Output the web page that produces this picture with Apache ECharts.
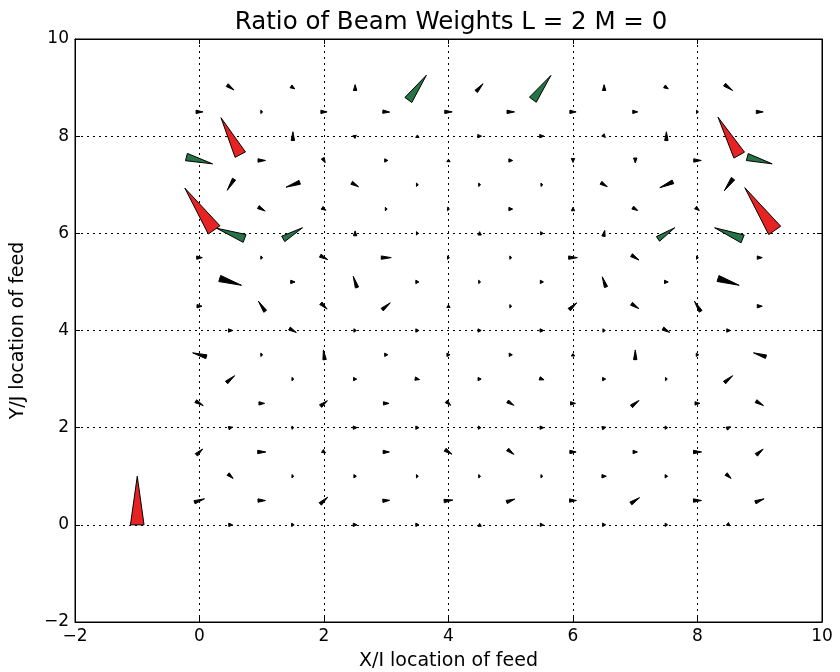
<!DOCTYPE html>
<html>
<head>
<meta charset="utf-8">
<script src="https://cdn.jsdelivr.net/npm/echarts@6/dist/echarts.min.js"></script>
<style>
html, body { margin: 0; padding: 0; background: #fff; }
#chart { width: 840px; height: 672px; }
</style>
</head>
<body>
<div id="chart"></div>
<script>
// axis range (both axes)
var axisMin = -2, axisMax = 10, axisStep = 2;

// quiver arrows: [x, y, u, v], drawn centred on (x, y)
var blackArrows = [
    // y = 9
    [0.5, 9, 0.11, -0.10], [1.5, 9, 0.06, -0.05], [2.5, 9, 0, 0.12], [4.5, 9, 0.11, 0.16],
    [6.5, 9, 0, 0.12], [7.5, 9, 0.06, -0.05], [8.5, 9, 0.13, -0.12],
    // y = 8.5
    [0, 8.5, 0.11, 0], [1, 8.5, 0.03, 0], [2, 8.5, 0.10, 0], [3, 8.5, 0.11, -0.01], [4, 8.5, 0.12, 0],
    [5, 8.5, 0.12, 0], [6, 8.5, 0.10, 0], [7, 8.5, 0.08, 0], [8, 8.5, 0.03, 0], [9, 8.5, 0.11, 0],
    // y = 8
    [1.5, 8, 0, 0.18], [2.5, 8, 0.04, 0.04], [3.5, 8, 0, 0.05], [4.5, 8, 0.06, 0],
    [5.5, 8, 0.07, 0], [6.5, 8, 0.04, -0.05], [7.5, 8, 0, 0.18],
    // y = 7.5
    [1, 7.5, 0.12, 0], [2, 7.5, 0.04, -0.09], [3, 7.5, 0.05, 0], [4, 7.5, 0, 0.05],
    [5, 7.5, 0.06, 0], [6, 7.5, 0, -0.08], [7, 7.5, 0, -0.10], [8, 7.5, 0.12, 0],
    // y = 7
    [0.5, 7, -0.11, -0.23], [1.5, 7, -0.22, -0.10], [2.5, 7, 0.11, -0.08], [3.5, 7, 0.03, 0],
    [4.5, 7, 0.03, 0], [5.5, 7, 0.03, 0], [6.5, 7, 0.10, -0.08], [7.5, 7, -0.21, -0.12], [8.5, 7, -0.14, -0.25],
    // y = 6.5
    [1, 6.5, 0.11, -0.08], [2, 6.5, 0.06, -0.05], [3, 6.5, 0.03, 0], [4, 6.5, 0.03, 0],
    [5, 6.5, 0.06, 0], [6, 6.5, 0, 0.07], [7, 6.5, 0.08, -0.06], [8, 6.5, 0.06, -0.06],
    // y = 6
    [2.5, 6, 0, 0.10], [3.5, 6, 0.03, 0], [4.5, 6, 0, 0.07], [5.5, 6, 0.04, 0], [6.5, 6, 0.02, 0.12],
    // y = 5.5
    [0, 5.5, 0.09, 0], [1, 5.5, 0.03, 0], [2, 5.5, 0.12, -0.08], [3, 5.5, 0.16, 0], [4, 5.5, 0.03, 0],
    [5, 5.5, 0.03, 0], [6, 5.5, 0.14, 0], [7, 5.5, 0.12, -0.10], [8, 5.5, 0.03, 0], [9, 5.5, 0.08, 0],
    // y = 5
    [0.5, 5, 0.35, -0.14], [1.5, 5, 0.07, 0], [2.5, 5, -0.06, 0.23], [3.5, 5, 0.05, 0], [4.5, 5, 0.03, 0],
    [5.5, 5, 0.05, 0], [6.5, 5, -0.06, 0.21], [7.5, 5, 0.06, 0], [8.5, 5, 0.34, -0.14],
    // y = 4.5
    [0, 4.5, 0.08, 0], [1, 4.5, -0.11, 0.21], [2, 4.5, 0.10, -0.12], [3, 4.5, 0.13, 0.14], [4, 4.5, 0, 0.05],
    [5, 4.5, 0.03, 0], [6, 4.5, 0.12, 0.14], [7, 4.5, 0.12, -0.10], [8, 4.5, -0.10, 0.21], [9, 4.5, 0.08, 0],
    // y = 4
    [0.5, 4, 0.07, 0], [1.5, 4, 0.11, -0.08], [2.5, 4, 0.04, 0], [3.5, 4, 0.05, 0], [4.5, 4, 0.05, 0],
    [5.5, 4, 0.06, 0], [6.5, 4, 0.04, 0], [7.5, 4, 0.11, -0.08], [8.5, 4, 0.06, 0],
    // y = 3.5
    [0, 3.5, -0.22, 0.08], [1, 3.5, 0.03, 0], [2, 3.5, -0.02, 0.20], [3, 3.5, 0.05, 0], [4, 3.5, 0.05, 0],
    [5, 3.5, 0.05, 0], [6, 3.5, 0, 0.05], [7, 3.5, 0, 0.20], [8, 3.5, 0.04, 0], [9, 3.5, -0.20, 0.08],
    // y = 3
    [0.5, 3, 0.13, 0.14], [1.5, 3, 0.03, 0], [2.5, 3, 0.05, 0], [3.5, 3, 0.07, -0.02], [4.5, 3, 0.05, 0],
    [5.5, 3, 0.07, -0.03], [6.5, 3, 0.05, 0], [7.5, 3, 0.03, 0], [8.5, 3, 0.13, 0.14],
    // y = 2.5
    [0, 2.5, 0.12, -0.09], [1, 2.5, 0.09, 0], [2, 2.5, 0.11, 0.11], [3, 2.5, 0.09, 0], [4, 2.5, 0.07, -0.08],
    [5, 2.5, 0.10, -0.08], [6, 2.5, 0.08, 0], [7, 2.5, 0.12, 0.12], [8, 2.5, 0.08, 0], [9, 2.5, 0.12, -0.09],
    // y = 2
    [0.5, 2, 0.06, 0.02], [1.5, 2, 0.03, 0], [2.5, 2, 0.06, 0], [3.5, 2, 0.05, 0], [4.5, 2, 0.04, 0],
    [5.5, 2, 0.06, 0], [6.5, 2, 0.06, 0.02], [7.5, 2, 0.04, 0], [8.5, 2, 0.06, 0.04],
    // y = 1.5
    [0, 1.5, 0.10, 0.12], [1, 1.5, 0.13, 0], [2, 1.5, 0.05, -0.04], [3, 1.5, 0.10, 0], [4, 1.5, 0.11, -0.09],
    [5, 1.5, 0.10, -0.10], [6, 1.5, 0.10, 0], [7, 1.5, 0.07, 0], [8, 1.5, 0.13, 0], [9, 1.5, 0.11, 0.12],
    // y = 1
    [0.5, 1, 0.08, -0.09], [1.5, 1, 0.03, 0], [2.5, 1, 0.04, 0], [3.5, 1, 0.03, 0], [4.5, 1, 0.03, 0],
    [5.5, 1, 0.03, 0], [6.5, 1, 0.07, 0], [7.5, 1, 0.04, 0], [8.5, 1, 0.08, -0.09],
    // y = 0.5
    [0, 0.5, 0.16, 0.07], [1, 0.5, 0.12, 0], [2, 0.5, 0.12, 0.14], [3, 0.5, 0.11, 0.01], [4, 0.5, 0.14, 0.02],
    [5, 0.5, 0.13, 0.06], [6, 0.5, 0.11, 0], [7, 0.5, 0.14, 0.12], [8, 0.5, 0.13, 0], [9, 0.5, 0.14, 0.07],
    // y = 0
    [0.5, 0, 0.06, 0], [1.5, 0, 0.04, 0], [2.5, 0, 0.06, 0], [3.5, 0, 0.05, 0], [4.5, 0, 0, 0.06],
    [5.5, 0, 0.05, 0], [6.5, 0, 0.05, 0], [7.5, 0, 0.04, 0], [8.5, 0, 0.04, -0.04]
];

var greenArrows = [
    [3.5, 9, 0.29, 0.51], [5.5, 9, 0.29, 0.50],
    [0, 7.5, 0.42, -0.14], [9, 7.5, 0.40, -0.14],
    [0.5, 6, -0.45, 0.21], [1.5, 6, 0.31, 0.23], [7.5, 6, 0.27, 0.23], [8.5, 6, -0.45, 0.23]
];

var redArrows = [
    [0.5, 8, -0.31, 0.76], [8.5, 8, -0.34, 0.78],
    [0, 6.5, -0.47, 0.86], [9, 6.5, -0.48, 0.88]
];

// reference arrow, drawn from its tail
var keyArrow = [[-1, 0, 0, 1]];

var chart = echarts.init(document.getElementById('chart'));

function arrowRenderer(pivot, fill, minHalf) {
    return function (params, api) {
        var c = api.coord([api.value(0), api.value(1)]);
        var s = api.size([1, 1]);
        var dx = api.value(2) * s[0];
        var dy = -api.value(3) * s[1];
        var len = Math.sqrt(dx * dx + dy * dy) || 0.001;
        var tail = pivot === 'tail' ? c : [c[0] - dx / 2, c[1] - dy / 2];
        var tip = [tail[0] + dx, tail[1] + dy];
        var hw = Math.max(minHalf, 0.14 * len);
        var nx = -dy / len * hw, ny = dx / len * hw;
        return {
            type: 'polygon',
            shape: { points: [tip, [tail[0] + nx, tail[1] + ny], [tail[0] - nx, tail[1] - ny]] },
            style: { fill: fill, stroke: '#000', lineWidth: 1, lineJoin: 'round' }
        };
    };
}

function tickText(v) {
    return String(v).replace('-', '\u2212');
}

var font = 'DejaVu Sans';
var gridLine = { show: true, lineStyle: { color: '#000', width: 1, type: [2, 4] } };
var frameLine = { show: true, onZero: false, lineStyle: { color: '#000', width: 1 } };
var frameTick = { show: true, inside: true, length: 5, lineStyle: { color: '#000' } };

var option = {
    animation: false,
    backgroundColor: '#fff',
    title: {
        text: 'Ratio of Beam Weights L = 2 M = 0',
        left: 446,
        top: 5,
        textAlign: 'center',
        textStyle: { fontFamily: font, fontSize: 24.5, fontWeight: 'normal', color: '#000' }
    },
    grid: {
        left: 75, right: 18, top: 39, bottom: 50,
        outerBoundsMode: 'none',
        show: true, borderColor: '#000', borderWidth: 1
    },
    xAxis: [{
        type: 'value', min: axisMin, max: axisMax, interval: axisStep,
        name: 'X/I location of feed', nameLocation: 'middle', nameGap: 30,
        nameTextStyle: { fontFamily: font, fontSize: 19, color: '#000' },
        axisLine: frameLine,
        axisTick: frameTick,
        axisLabel: { fontFamily: font, fontSize: 17, color: '#000', margin: 6, formatter: tickText },
        splitLine: gridLine
    }, {
        type: 'value', position: 'top', min: axisMin, max: axisMax, interval: axisStep,
        axisLine: frameLine,
        axisTick: frameTick,
        axisLabel: { show: false }, splitLine: { show: false }
    }],
    yAxis: [{
        type: 'value', min: axisMin, max: axisMax, interval: axisStep,
        name: 'Y/J location of feed', nameLocation: 'middle', nameGap: 47,
        nameTextStyle: { fontFamily: font, fontSize: 19, color: '#000' },
        axisLine: frameLine,
        axisTick: frameTick,
        axisLabel: { fontFamily: font, fontSize: 17, color: '#000', margin: 6, formatter: tickText },
        splitLine: gridLine
    }, {
        type: 'value', position: 'right', min: axisMin, max: axisMax, interval: axisStep,
        axisLine: frameLine,
        axisTick: frameTick,
        axisLabel: { show: false }, splitLine: { show: false }
    }],
    series: [
        { type: 'custom', name: 'small', renderItem: arrowRenderer('middle', '#000', 1.7), data: blackArrows, z: 2 },
        { type: 'custom', name: 'mid', renderItem: arrowRenderer('middle', '#267346', 1.5), data: greenArrows, z: 3 },
        { type: 'custom', name: 'large', renderItem: arrowRenderer('middle', '#e62222', 1.5), data: redArrows, z: 4 },
        { type: 'custom', name: 'key', renderItem: arrowRenderer('tail', '#e62222', 1.5), data: keyArrow, z: 5 }
    ]
};

chart.setOption(option);
</script>
</body>
</html>
